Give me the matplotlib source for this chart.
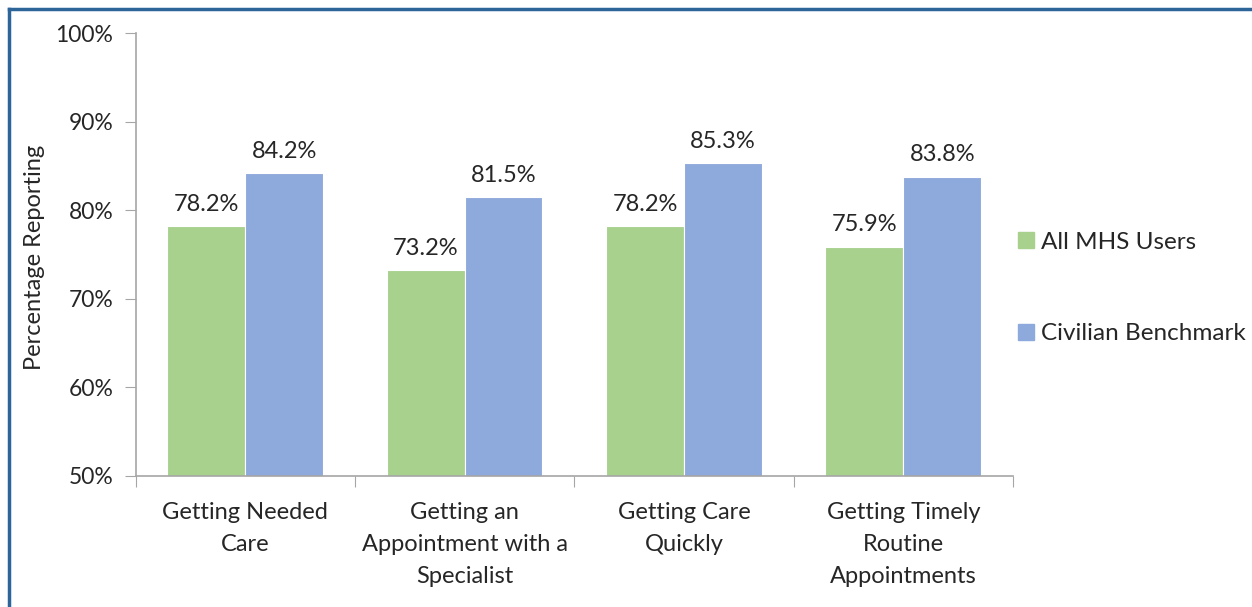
import matplotlib
matplotlib.use("Agg")
import matplotlib.pyplot as plt
import numpy as np
from matplotlib.patches import Rectangle
from matplotlib.lines import Line2D

categories = ["Getting Needed\nCare", "Getting an\nAppointment with a\nSpecialist",
              "Getting Care\nQuickly", "Getting Timely\nRoutine\nAppointments"]
mhs_users = [78.2, 73.2, 78.2, 75.9]
civilian = [84.2, 81.5, 85.3, 83.8]
series_names = ["All MHS Users", "Civilian Benchmark"]
yticks = [50, 60, 70, 80, 90, 100]

plt.rcParams['font.family'] = ['Lato', 'DejaVu Sans']
green = "#A9D18E"
blue = "#8EA9DB"
axis_gray = "#A6A6A6"
text_col = "#262626"

fig = plt.figure(figsize=(12.52, 6.07), dpi=100)
ax = fig.add_axes([135.5/1252, 1-476/607, (1013-135.5)/1252, (476-33)/607])

x = np.arange(len(categories))
w = 0.355
b1 = ax.bar(x - w/2, mhs_users, w, color=green, edgecolor="white", linewidth=0.8, label=series_names[0])
b2 = ax.bar(x + w/2, civilian, w, color=blue, edgecolor="white", linewidth=0.8, label=series_names[1])
for bars, vals in ((b1, mhs_users), (b2, civilian)):
    for r, v in zip(bars, vals):
        ax.annotate(f"{v:.1f}%", (r.get_x() + r.get_width()/2, v), xytext=(0, 8),
                    textcoords="offset points", ha="center", va="bottom", fontsize=17, color=text_col)

ax.set_ylim(50, 100)
ax.set_xlim(-0.5, len(categories) - 0.5)
ax.set_yticks(yticks)
ax.set_yticklabels([f"{t}%" for t in yticks], fontsize=16.5, color=text_col)
ax.set_xticks(np.arange(len(categories) + 1) - 0.5)
ax.set_xticklabels([])
ax.set_xticks(x, minor=True)
ax.set_xticklabels(categories, minor=True, fontsize=17, color=text_col, linespacing=1.63)
ax.tick_params(axis="x", which="minor", length=0, pad=19)
ax.tick_params(axis="x", which="major", length=8, color=axis_gray, direction="out")
ax.tick_params(axis="y", length=8, color=axis_gray, direction="out", pad=8)
for s in ("top", "right"):
    ax.spines[s].set_visible(False)
for s in ("left", "bottom"):
    ax.spines[s].set_color(axis_gray)
    ax.spines[s].set_linewidth(1.2)
fig.text(35/1252, 1-257/607, "Percentage Reporting", rotation=90, ha="center", va="center",
         fontsize=17, color=text_col)

leg = fig.legend(handles=[Rectangle((0, 0), 1, 1, color=green), Rectangle((0, 0), 1, 1, color=blue)],
                 labels=series_names, loc="center left", bbox_to_anchor=(1008/1252, 1-288/607),
                 frameon=False, fontsize=17.5, handlelength=0.65, handleheight=0.65,
                 handletextpad=0.3, labelspacing=2.9, labelcolor=text_col, borderaxespad=0)

# outer frame (top and left blue lines)
fig.add_artist(Line2D([9/1252, 1], [1-9/607, 1-9/607], color="#2E6599", linewidth=2.5, transform=fig.transFigure))
fig.add_artist(Line2D([9/1252, 9/1252], [0, 1-9/607], color="#2E6599", linewidth=2.5, transform=fig.transFigure))

fig.savefig("out.png", dpi=100)
